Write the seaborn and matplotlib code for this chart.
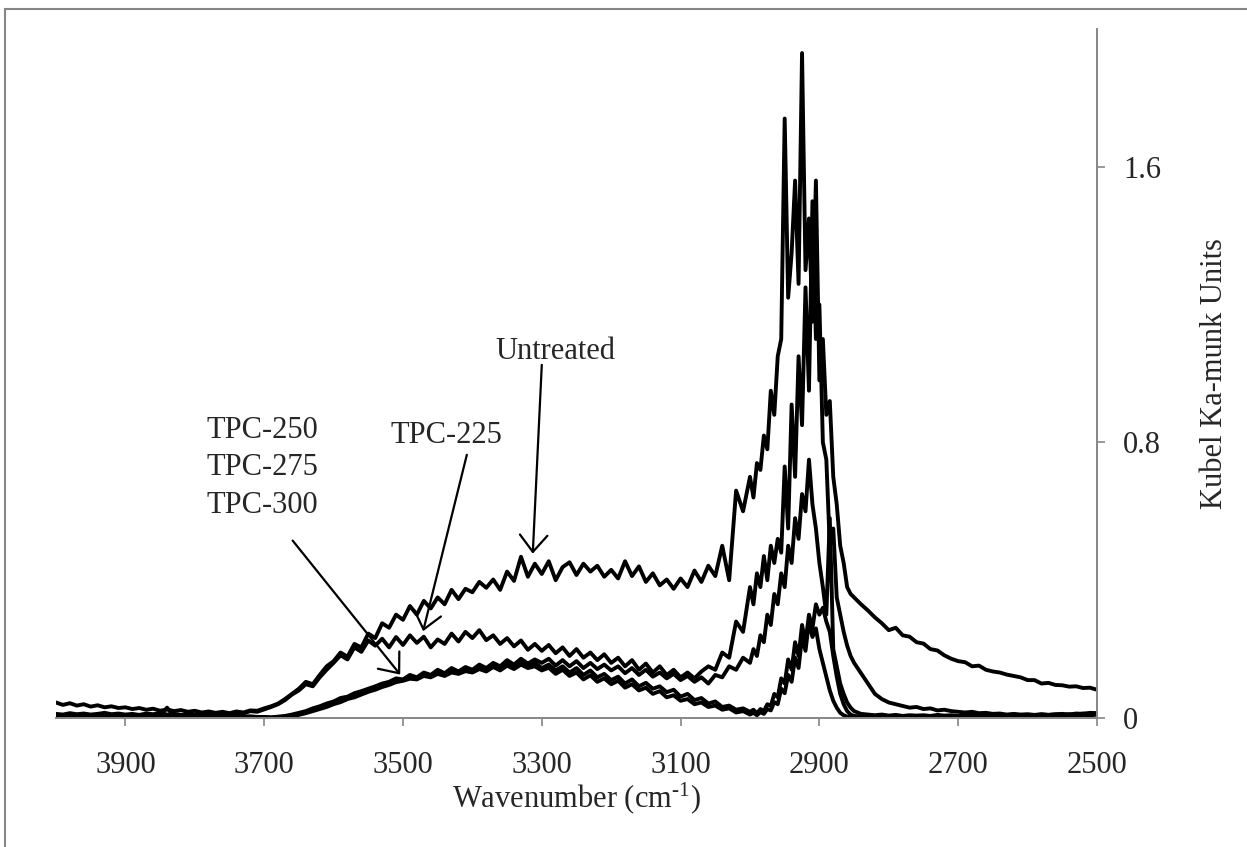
import numpy as np
import pandas as pd
import matplotlib
matplotlib.use("Agg")
import matplotlib.pyplot as plt
from matplotlib.patches import Rectangle
import seaborn as sns

# Wavenumber grid (cm-1): 10 cm-1 steps, 5 cm-1 steps across the C-H stretch band
wavenumber = np.concatenate([
    np.arange(4000, 3000, -10),   # 100 points
    np.arange(3000, 2850, -5),    # 30 points
    np.arange(2850, 2499, -10),   # 36 points
])

untreated = [
    # 4000 -> 3010
    0.045, 0.038, 0.043, 0.036, 0.040, 0.033, 0.037, 0.031, 0.034, 0.029,
    0.031, 0.026, 0.029, 0.024, 0.027, 0.021, 0.025, 0.020, 0.023, 0.018,
    0.021, 0.016, 0.019, 0.015, 0.018, 0.014, 0.019, 0.016, 0.022, 0.021,
    0.028, 0.034, 0.042, 0.055, 0.070, 0.085, 0.105, 0.098, 0.125, 0.150,
    0.165, 0.190, 0.178, 0.215, 0.205, 0.245, 0.232, 0.275, 0.262, 0.300,
    0.285, 0.325, 0.300, 0.340, 0.318, 0.350, 0.330, 0.372, 0.345, 0.375,
    0.365, 0.395, 0.378, 0.402, 0.372, 0.425, 0.398, 0.468, 0.410, 0.448,
    0.418, 0.455, 0.400, 0.438, 0.452, 0.415, 0.448, 0.425, 0.442, 0.410,
    0.430, 0.405, 0.455, 0.412, 0.440, 0.395, 0.420, 0.385, 0.402, 0.375,
    0.405, 0.380, 0.428, 0.395, 0.442, 0.412, 0.500, 0.400, 0.660, 0.600,
    # 3000 -> 2855
    0.700, 0.640, 0.740, 0.720, 0.820, 0.780, 0.950, 0.880, 1.050, 1.100,
    1.740, 1.220, 1.350, 1.560, 1.260, 1.930, 1.300, 1.450, 1.150, 1.560,
    0.980, 1.100, 0.880, 0.920, 0.700, 0.620, 0.500, 0.450, 0.380, 0.360,
    # 2850 -> 2500
    0.350, 0.330, 0.312, 0.292, 0.275, 0.255, 0.262, 0.240, 0.236, 0.220,
    0.216, 0.200, 0.196, 0.182, 0.172, 0.165, 0.162, 0.150, 0.152, 0.140,
    0.135, 0.132, 0.126, 0.122, 0.118, 0.110, 0.110, 0.100, 0.102, 0.096,
    0.095, 0.091, 0.092, 0.087, 0.088, 0.082,
]

tpc_225 = [
    0.012, 0.010, 0.014, 0.011, 0.013, 0.010, 0.012, 0.015, 0.011, 0.013,
    0.010, 0.012, 0.009, 0.013, 0.011, 0.014, 0.010, 0.012, 0.009, 0.011,
    0.010, 0.012, 0.009, 0.011, 0.013, 0.010, 0.015, 0.013, 0.020, 0.018,
    0.025, 0.032, 0.040, 0.052, 0.068, 0.080, 0.098, 0.092, 0.118, 0.140,
    0.160, 0.182, 0.170, 0.205, 0.192, 0.225, 0.210, 0.230, 0.205, 0.235,
    0.212, 0.240, 0.218, 0.236, 0.205, 0.228, 0.215, 0.245, 0.222, 0.250,
    0.232, 0.255, 0.226, 0.240, 0.215, 0.232, 0.208, 0.225, 0.198, 0.215,
    0.195, 0.212, 0.188, 0.205, 0.180, 0.200, 0.175, 0.190, 0.168, 0.185,
    0.160, 0.175, 0.150, 0.168, 0.140, 0.158, 0.132, 0.150, 0.125, 0.140,
    0.118, 0.132, 0.115, 0.135, 0.150, 0.140, 0.190, 0.175, 0.280, 0.250,
    0.380, 0.330, 0.420, 0.380, 0.470, 0.400, 0.500, 0.450, 0.520, 0.480,
    0.730, 0.550, 0.910, 0.700, 1.050, 0.850, 1.250, 0.950, 1.500, 1.100,
    1.200, 0.800, 0.750, 0.500, 0.550, 0.350, 0.300, 0.250, 0.210, 0.180,
    0.160, 0.130, 0.100, 0.070, 0.055, 0.045, 0.040, 0.035, 0.030, 0.032,
    0.026, 0.028, 0.022, 0.024, 0.020, 0.018, 0.016, 0.018, 0.014, 0.015,
    0.012, 0.013, 0.010, 0.012, 0.010, 0.011, 0.009, 0.011, 0.009, 0.010,
    0.009, 0.011, 0.010, 0.013, 0.012, 0.014,
]

tpc_250 = [
    0.005, 0.003, 0.006, 0.004, 0.005, 0.003, 0.006, 0.004, 0.005, 0.003,
    0.005, 0.004, 0.006, 0.003, 0.005, 0.004, 0.030, 0.005, 0.006, 0.004,
    0.005, 0.004, 0.006, 0.004, 0.005, 0.004, 0.006, 0.004, 0.005, 0.003,
    0.003, 0.002, 0.004, 0.006, 0.010, 0.015, 0.020, 0.028, 0.034, 0.042,
    0.048, 0.058, 0.062, 0.072, 0.078, 0.085, 0.092, 0.100, 0.105, 0.115,
    0.112, 0.125, 0.118, 0.132, 0.125, 0.140, 0.130, 0.145, 0.135, 0.148,
    0.140, 0.155, 0.145, 0.160, 0.150, 0.168, 0.155, 0.172, 0.158, 0.170,
    0.160, 0.172, 0.152, 0.168, 0.150, 0.165, 0.145, 0.160, 0.142, 0.155,
    0.138, 0.150, 0.130, 0.145, 0.125, 0.140, 0.120, 0.132, 0.115, 0.128,
    0.110, 0.122, 0.105, 0.118, 0.100, 0.125, 0.118, 0.150, 0.140, 0.175,
    0.160, 0.200, 0.180, 0.240, 0.220, 0.300, 0.270, 0.360, 0.330, 0.420,
    0.380, 0.500, 0.450, 0.580, 0.520, 0.650, 0.600, 0.750, 0.620, 0.550,
    0.450, 0.380, 0.300, 0.580, 0.200, 0.150, 0.100, 0.070, 0.045, 0.030,
    0.020, 0.012, 0.010, 0.008, 0.010, 0.007, 0.009, 0.006, 0.008, 0.007,
    0.008, 0.006, 0.009, 0.007, 0.008, 0.006, 0.007, 0.009, 0.006, 0.008,
    0.007, 0.009, 0.006, 0.008, 0.007, 0.009, 0.008, 0.010, 0.009, 0.011,
    0.012, 0.010, 0.013, 0.012, 0.015, 0.014,
]

tpc_275 = [
    0.002, 0.004, 0.002, 0.003, 0.001, 0.003, 0.002, 0.004, 0.002, 0.003,
    0.003, 0.002, 0.004, 0.002, 0.003, 0.001, 0.003, 0.002, 0.004, 0.002,
    0.003, 0.002, 0.004, 0.003, 0.002, 0.004, 0.003, 0.002, 0.003, 0.002,
    0.002, 0.001, 0.002, 0.004, 0.008, 0.012, 0.018, 0.024, 0.030, 0.036,
    0.044, 0.050, 0.058, 0.064, 0.072, 0.080, 0.086, 0.095, 0.100, 0.108,
    0.110, 0.118, 0.115, 0.125, 0.122, 0.132, 0.128, 0.138, 0.134, 0.142,
    0.138, 0.150, 0.142, 0.155, 0.145, 0.160, 0.150, 0.165, 0.152, 0.160,
    0.145, 0.155, 0.138, 0.150, 0.132, 0.145, 0.125, 0.138, 0.118, 0.128,
    0.110, 0.120, 0.100, 0.112, 0.092, 0.102, 0.085, 0.092, 0.075, 0.082,
    0.062, 0.070, 0.052, 0.058, 0.042, 0.048, 0.032, 0.036, 0.024, 0.028,
    0.018, 0.024, 0.014, 0.026, 0.020, 0.040, 0.035, 0.070, 0.060, 0.115,
    0.100, 0.170, 0.140, 0.220, 0.180, 0.270, 0.220, 0.300, 0.260, 0.330,
    0.300, 0.320, 0.280, 0.250, 0.180, 0.120, 0.070, 0.040, 0.020, 0.010,
    0.006, 0.004, 0.006, 0.003, 0.005, 0.004, 0.006, 0.003, 0.005, 0.004,
    0.006, 0.004, 0.005, 0.003, 0.006, 0.004, 0.005, 0.004, 0.006, 0.005,
    0.004, 0.006, 0.005, 0.007, 0.005, 0.006, 0.005, 0.007, 0.006, 0.008,
    0.007, 0.009, 0.008, 0.010, 0.009, 0.011,
]

tpc_300 = [
    0.001, 0.002, 0.001, 0.000, 0.002, 0.001, 0.002, 0.001, 0.003, 0.001,
    0.002, 0.001, 0.002, 0.001, 0.000, 0.002, 0.001, 0.002, 0.001, 0.002,
    0.001, 0.002, 0.001, 0.003, 0.001, 0.002, 0.001, 0.002, 0.001, 0.001,
    0.001, 0.000, 0.001, 0.002, 0.005, 0.009, 0.014, 0.020, 0.026, 0.032,
    0.040, 0.046, 0.055, 0.060, 0.068, 0.076, 0.082, 0.090, 0.096, 0.104,
    0.108, 0.114, 0.112, 0.122, 0.118, 0.128, 0.122, 0.132, 0.128, 0.136,
    0.132, 0.142, 0.135, 0.148, 0.138, 0.152, 0.142, 0.155, 0.145, 0.150,
    0.138, 0.146, 0.128, 0.140, 0.122, 0.132, 0.112, 0.124, 0.105, 0.115,
    0.098, 0.108, 0.088, 0.098, 0.080, 0.088, 0.070, 0.078, 0.060, 0.066,
    0.050, 0.055, 0.040, 0.045, 0.032, 0.036, 0.024, 0.028, 0.016, 0.020,
    0.010, 0.015, 0.008, 0.017, 0.012, 0.026, 0.022, 0.046, 0.040, 0.085,
    0.072, 0.125, 0.105, 0.175, 0.145, 0.235, 0.195, 0.280, 0.235, 0.260,
    0.200, 0.160, 0.120, 0.080, 0.050, 0.030, 0.015, 0.008, 0.004, 0.002,
    0.001, 0.002, 0.001, 0.003, 0.002, 0.001, 0.003, 0.002, 0.001, 0.002,
    0.003, 0.002, 0.001, 0.003, 0.002, 0.003, 0.002, 0.004, 0.003, 0.002,
    0.004, 0.003, 0.005, 0.004, 0.003, 0.005, 0.004, 0.006, 0.005, 0.007,
    0.006, 0.008, 0.007, 0.009, 0.008, 0.010,
]

samples = {
    "Untreated": untreated,
    "TPC-225": tpc_225,
    "TPC-250": tpc_250,
    "TPC-275": tpc_275,
    "TPC-300": tpc_300,
}

x_ticks = [3900, 3700, 3500, 3300, 3100, 2900, 2700, 2500]
y_ticks = [0, 0.8, 1.6]
y_tick_labels = ["0", "0.8", "1.6"]

frames = [pd.DataFrame({"wavenumber": wavenumber, "km": vals, "sample": name})
          for name, vals in samples.items()]
spectra = pd.concat(frames, ignore_index=True)

sns.set_style("white")
plt.rcParams["font.family"] = ["Liberation Serif", "DejaVu Serif"]
plt.rcParams["mathtext.fontset"] = "custom"
plt.rcParams["mathtext.rm"] = "Liberation Serif"
plt.rcParams["mathtext.it"] = "Liberation Serif:italic"

FS = 22
GRAY = "#868686"

fig = plt.figure(figsize=(12.47, 8.47), dpi=100)
ax = fig.add_axes([0.0449, 0.1523, 0.8348, 0.8135])

sns.lineplot(data=spectra, x="wavenumber", y="km", hue="sample", units="sample",
             estimator=None, sort=False, palette={k: "black" for k in samples},
             linewidth=2.8, legend=False, ax=ax)

ax.set_xlim(4000, 2500)
ax.set_ylim(0, 2.0)
ax.set_xticks(x_ticks)
ax.set_xticklabels([str(t) for t in x_ticks])
ax.yaxis.tick_right()
ax.yaxis.set_label_position("right")
ax.set_yticks(y_ticks)
ax.set_yticklabels(y_tick_labels)

for side in ("left", "top"):
    ax.spines[side].set_visible(False)
for side in ("right", "bottom"):
    ax.spines[side].set_color(GRAY)
    ax.spines[side].set_linewidth(1.4)

ax.tick_params(axis="x", direction="out", length=6, width=1.2, color=GRAY,
               labelsize=FS, pad=18, bottom=True)
ax.tick_params(axis="y", direction="out", length=6, width=1.2, color=GRAY,
               labelsize=FS, pad=13, right=True, left=False)

ax.set_xlabel(r"Wavenumber (cm$^{\text{-}1}$)", fontsize=FS, labelpad=0)
ax.set_ylabel("Kubel Ka-munk Units", fontsize=FS, labelpad=28, rotation=90)

# Sample labels with pointer arrows
arrow_kw = dict(arrowstyle="->,head_length=0.55,head_width=0.45", lw=1.6,
                color="black", mutation_scale=22, shrinkA=0, shrinkB=0)

ax.text(3281, 1.063, "Untreated", fontsize=FS, ha="center", va="center")
ax.annotate("", xy=(3313, 0.477), xytext=(3300, 1.025), arrowprops=arrow_kw)

ax.text(3438, 0.820, "TPC-225", fontsize=FS, ha="center", va="center")
ax.annotate("", xy=(3471, 0.252), xytext=(3408, 0.764), arrowprops=arrow_kw)

for label, yv in zip(["TPC-250", "TPC-275", "TPC-300"], [0.834, 0.726, 0.618]):
    ax.text(3702, yv, label, fontsize=FS, ha="center", va="center")
ax.annotate("", xy=(3504, 0.126), xytext=(3659, 0.515), arrowprops=arrow_kw)

# Outer frame around the chart area
fig.patches.append(Rectangle((5 / 1247, -0.2), 1.5, 1.2 - 9 / 847,
                             transform=fig.transFigure, fill=False,
                             edgecolor=GRAY, linewidth=1.5))

fig.savefig("out.png", dpi=100)
